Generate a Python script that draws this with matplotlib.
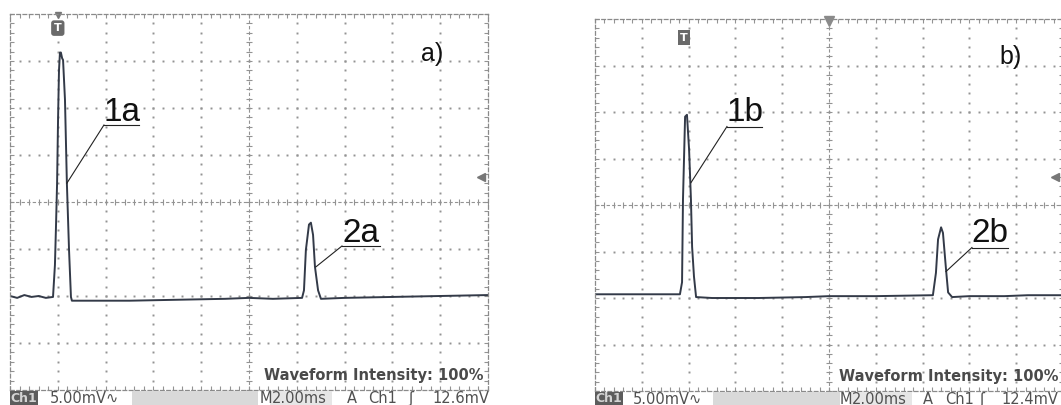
import numpy as np
import matplotlib.pyplot as plt
from matplotlib.patches import Rectangle

# traza a) : tiempo (ms) y tension (mV), 2 ms/div, 5 mV/div
t_a = [0.0, 0.3, 0.6, 0.9, 1.2, 1.5, 1.80, 1.88, 1.92, 1.97, 2.01, 2.05, 2.09, 2.13,
       2.18, 2.22, 2.30, 2.38, 2.47, 2.55, 2.59, 3.5, 5.0, 7.0, 9.0, 10.0, 11.0,
       12.22, 12.30, 12.38, 12.51, 12.59, 12.68, 12.76, 12.89, 13.01, 14.0, 16.0, 18.0, 20.0]
v_a = [-10.0, -10.2, -9.9, -10.1, -10.0, -10.2, -10.1, -6.7, -3.0, 2.0, 8.7, 14.0, 15.9, 15.9,
       15.3, 15.1, 10.9, 2.0, -5.1, -10.1, -10.5, -10.5, -10.5, -10.4, -10.3, -10.2, -10.3,
       -10.2, -9.4, -5.1, -2.4, -2.2, -3.5, -6.9, -9.4, -10.3, -10.2, -10.1, -10.0, -9.9]

# traza b)
t_b = [0.0, 1.0, 2.0, 3.0, 3.63, 3.72, 3.76, 3.85, 3.93, 4.02, 4.10, 4.15, 4.23, 4.32,
       5.0, 7.0, 9.0, 10.0, 12.0, 14.44, 14.57, 14.66, 14.79, 14.87, 15.00, 15.09, 15.26,
       16.0, 17.5, 18.5, 20.0]
v_b = [-9.6, -9.6, -9.6, -9.6, -9.6, -8.3, 0.6, 9.5, 9.7, 6.0, 0.6, -4.5, -7.7, -9.9,
       -10.0, -10.0, -9.9, -9.8, -9.8, -9.7, -7.3, -3.7, -2.4, -3.0, -6.9, -9.4, -9.9,
       -9.8, -9.8, -9.7, -9.7]

# etiquetas de picos: texto, (t, v) del texto, subrayado t0-t1, punta de la linea
labels_a = [("1a", 3.9, 8.6, 3.93, 5.40, 8.19, 2.38, 2.0),
            ("2a", 13.9, -4.3, 13.89, 15.48, -4.68, 12.80, -6.9)]
labels_b = [("1b", 5.64, 9.0, 5.64, 7.14, 8.44, 4.10, 2.4),
            ("2b", 16.1, -4.0, 16.11, 17.65, -4.57, 15.0, -7.15)]

status_a = ["5.00mV\u223f", "M", "2.00ms", "A", "Ch1", "\u0283", "12.6mV"]
status_b = ["5.00mV\u223f", "M", "2.00ms", "A", "Ch1", "\u0283", "12.4mV"]

W, H = 1061, 405
fig = plt.figure(figsize=(W / 100, H / 100), dpi=100)
plt.rcParams['font.family'] = ['DejaVu Sans', 'Noto Sans']


def px_axes(left, top, right, bottom):
    return fig.add_axes([left / W, 1 - bottom / H, (right - left) / W, (bottom - top) / H])


grid_col = '#939393'


def screen(ax):
    ax.set_xlim(0, 20)
    ax.set_ylim(-20, 20)
    for xv in np.arange(2, 20, 2):
        if xv == 10:
            continue
        yd = np.arange(-19, 20, 1.0)
        ax.plot(np.full_like(yd, xv), yd, ls='none', marker='s', ms=1.4, mew=0, color=grid_col)
    for yv in [-15, -10, -5, 5, 10, 15]:
        xd = np.arange(0.4, 20, 0.4)
        ax.plot(xd, np.full_like(xd, yv), ls='none', marker='s', ms=1.4, mew=0, color=grid_col)
    # cruz central
    ax.axvline(10, ls=(0, (3, 2)), color=grid_col, lw=0.8)
    ax.axhline(0, ls=(0, (3, 2)), color=grid_col, lw=0.8)
    yd = np.arange(-20, 20.1, 1.0)
    ax.plot(np.full_like(yd, 10), yd, ls='none', marker='_', ms=4, mew=0.8, color=grid_col)
    xd = np.arange(0, 20.01, 0.4)
    ax.plot(xd, np.zeros_like(xd), ls='none', marker='|', ms=4, mew=0.8, color=grid_col)
    ax.set_xticks(np.arange(0, 20.01, 0.4))
    ax.set_yticks(np.arange(-20, 20.1, 1.0))
    ax.tick_params(direction='in', length=3, width=0.8, color=grid_col, top=True, right=True,
                   labelbottom=False, labelleft=False)
    for sp in ax.spines.values():
        sp.set_linestyle((0, (3, 2)))
        sp.set_color('#8a8a8a')
        sp.set_linewidth(0.9)


def peak_labels(ax, labels):
    for txt, tx, ty, u0, u1, uy, lx, ly in labels:
        ax.text(tx, ty, txt, family='Liberation Sans', fontsize=24, color='#111111',
                ha='left', va='baseline')
        ax.plot([u0, u1], [uy, uy], color='#222222', lw=0.8)
        ax.plot([lx, u0], [ly, uy], color='#222222', lw=0.8)


def status(ax, items, xs, bar, mbox):
    ax.set_xlim(0, 478)
    ax.set_ylim(0, 15)
    ax.axis('off')
    ax.add_patch(Rectangle((0, 0.5), 28, 14, fc='#5c5c5c', ec='none'))
    ax.text(14, 7, "Ch1", ha='center', va='center', fontsize=9, fontweight='bold', color='#d4d4d4')
    ax.add_patch(Rectangle((bar[0], 0.5), bar[1] - bar[0], 14, fc='#d9d9d9', ec='none'))
    ax.add_patch(Rectangle((mbox[0], 0.5), mbox[1] - mbox[0], 14, fc='#e6e6e6', ec='none'))
    for s, x in zip(items, xs):
        ax.text(x, 6.5, s, ha='left', va='center', fontsize=10.5, color='#505050')


ax_a = px_axes(10, 14, 488, 390)
ax_b = px_axes(595, 19, 1063, 391)

for ax in (ax_a, ax_b):
    screen(ax)

ax_a.plot(t_a, v_a, color='#333a48', lw=1.4)
ax_b.plot(t_b, v_b, color='#333a48', lw=1.4)

peak_labels(ax_a, labels_a)
peak_labels(ax_b, labels_b)

ax_a.text(17.2, 15.0, "a)", family='Liberation Sans', fontsize=18, color='#111111', va='baseline')
ax_b.text(17.3, 15.2, "b)", family='Liberation Sans', fontsize=18, color='#111111', va='baseline')

for ax in (ax_a, ax_b):
    ax.text(19.8, -18.9, "Waveform Intensity: 100%", ha='right', va='baseline',
            fontsize=10.5, fontweight='bold', color='#4a4a4a')

# marcadores de disparo
ax_a.text(2.0, 18.5, "T", ha='center', va='center', fontsize=8, fontweight='bold', color='white',
          bbox=dict(boxstyle='round,pad=0.25', fc='#6a6a6a', ec='none'))
ax_a.plot(2.0, 19.9, marker='v', ms=5, color='#777777', clip_on=False)
ax_b.text(3.8, 18.0, "T", ha='center', va='center', fontsize=8, fontweight='bold', color='white',
          bbox=dict(boxstyle='square,pad=0.2', fc='#6a6a6a', ec='none'))
ax_b.plot(10, 19.8, marker='v', ms=7, color='#8a8a8a', clip_on=False)
ax_a.plot(19.7, 2.66, marker='<', ms=6, color='#777777')
ax_b.plot(19.66, 2.96, marker='<', ms=6, color='#777777')

st_a = px_axes(10, 390, 488, 405)
status(st_a, status_a, [40, 250, 262, 337, 358, 398, 422], (122, 248), (260, 322))
st_b = px_axes(595, 391, 1073, 406)
status(st_b, status_b, [38, 245, 257, 328, 350, 384, 406], (118, 245), (255, 317))

fig.savefig("out.png", dpi=100)
